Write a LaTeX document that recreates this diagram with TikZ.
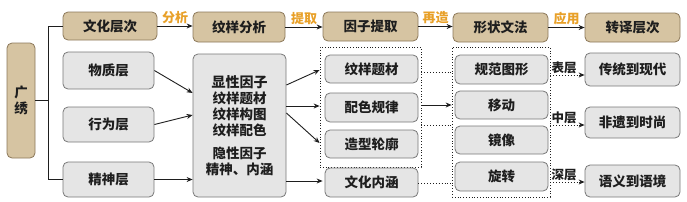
\documentclass[tikz,border=0pt]{standalone}
\usepackage{fontspec}
\setmainfont{Noto Sans CJK SC}
\usetikzlibrary{arrows.meta,calc}
\definecolor{tanfill}{RGB}{214,196,162}
\definecolor{tanline}{RGB}{140,120,90}
\definecolor{gfill}{RGB}{229,229,229}
\definecolor{gline}{RGB}{120,120,120}
\definecolor{orangelab}{RGB}{232,160,40}
\definecolor{ink}{RGB}{30,30,30}
\newcommand\mkbox[7]{\node[#1, minimum width={(#5)-(#3)}, minimum height={(#6)-(#4)}] (#2) at ({((#3)+(#5))/2},{((#4)+(#6))/2}) {#7};}
\begin{document}
\begin{tikzpicture}[x=1pt,y=-1pt,
 base/.style={rounded corners=5pt, line width=0.8pt, inner sep=0pt, align=center, font=\fontsize{13.5}{16}\selectfont\bfseries, text=ink},
 tanbox/.style={base, fill=tanfill, draw=tanline},
 graybox/.style={base, fill=gfill, draw=gline},
 grpbox/.style={draw=ink, dotted, line width=0.8pt, inner sep=0pt},
 arr/.style={draw=ink, line width=0.9pt, -{Stealth[length=6pt,width=5pt]}},
 ln/.style={draw=ink, line width=0.9pt},
 dl/.style={draw=ink, dotted, line width=0.9pt},
 darr/.style={draw=ink, dotted, line width=0.9pt, -{Stealth[length=6pt,width=5pt]}},
 toplab/.style={text=orangelab, font=\fontsize{13}{14}\selectfont\bfseries, inner sep=0pt},
 sidelab/.style={text=ink, font=\fontsize{12.5}{14}\selectfont\bfseries, inner sep=0pt}]
\useasboundingbox (0,0) rectangle (687,201);
% groups
\mkbox{grpbox}{g1}{320}{47}{421}{167}{}
\mkbox{grpbox}{g2}{452}{47}{550}{197}{}
% left
\mkbox{tanbox}{gx}{7}{43}{35}{158}{\fontsize{13.5}{27}\selectfont\bfseries 广\\绣}
\mkbox{tanbox}{wh}{63}{12}{157}{40}{文化层次}
\mkbox{graybox}{wz}{63}{52}{154}{89}{物质层}
\mkbox{graybox}{xw}{63}{107}{154}{142}{行为层}
\mkbox{graybox}{js}{63}{162}{154}{197}{精神层}
% column 2
\mkbox{tanbox}{wf}{193}{12}{285}{42}{纹样分析}
\mkbox{graybox}{big}{193}{54}{286}{197}{\fontsize{14}{20.5}\selectfont\bfseries 显性因子\\纹样题材\\纹样构图\\纹样配色\\[7pt]隐性因子\\精神、内涵}
% column 3
\mkbox{tanbox}{yz}{323}{12}{418}{41}{因子提取}
\mkbox{graybox}{a1}{325}{55}{418}{83}{纹样题材}
\mkbox{graybox}{a2}{325}{93}{418}{122}{配色规律}
\mkbox{graybox}{a3}{325}{130}{418}{158}{造型轮廓}
\mkbox{graybox}{a4}{325}{168}{418}{197}{文化内涵}
% column 4
\mkbox{tanbox}{xz}{453}{13}{548}{42}{形状文法}
\mkbox{graybox}{b1}{455}{55}{548}{84}{规范图形}
\mkbox{graybox}{b2}{455}{91}{548}{119}{移动}
\mkbox{graybox}{b3}{455}{126}{548}{154}{镜像}
\mkbox{graybox}{b4}{455}{162}{548}{191}{旋转}
% column 5
\mkbox{tanbox}{t1}{585}{13}{680}{42}{转译层次}
\mkbox{graybox}{t2}{585}{53}{680}{86}{传统到现代}
\mkbox{graybox}{t3}{585}{107}{680}{138}{非遗到时尚}
\mkbox{graybox}{t4}{585}{165}{680}{197}{语义到语境}
% spine
\coordinate (sp) at (48,0);
\draw[ln] (gx.east) -- (gx.east -| sp);
\draw[ln] (wh.west) -- (wh.west -| sp) -- (js.west -| sp) -- (js.west);
% top row
\draw[arr] (wh.east) -- (wh.east -| wf.west) node[toplab, midway, above=2pt] {分析};
\draw[arr] (wf.east) -- (wf.east -| yz.west) node[toplab, midway, above=2pt] {提取};
\draw[arr] (yz.east) -- (yz.east -| xz.west) node[toplab, midway, above=2pt] {再造};
\draw[arr] (xz.east) -- (xz.east -| t1.west) node[toplab, midway, above=2pt] {应用};
% layers to factors
\draw[arr] (wz.east) -- (big.west |- 0,93);
\draw[arr] (xw.east) -- (big.west |- 0,115);
\draw[arr] (js.east) -- (js.east -| big.west);
% factors to group 1
\draw[arr] (big.east |- 0,85) -- (g1.west |- 0,70);
\draw[arr] (big.east |- 0,106) -- (g1.west |- 0,106);
\draw[arr] (big.east |- 0,113) -- (g1.west |- 0,143);
\draw[arr] (big.east |- 0,181) -- ($(a4.west |- 0,181)+(-2,0)$);
% group 1 to group 2
\draw[arr] (g1.east |- 0,105) -- (g2.west |- 0,105);
\draw[dl] (g1.east |- 0,72) -- (g2.west |- 0,72);
\draw[dl] (g1.east |- 0,125) -- (g2.west |- 0,125);
\draw[dl] (a4.east |- 0,183) -- (g2.west |- 0,183);
% group 2 to results
\draw[darr] (g2.east |- 0,75) -- (t2.west |- 0,75) node[sidelab, pos=0.4, above=1pt] {表层};
\draw[darr] (g2.east |- 0,125) -- (t3.west |- 0,125) node[sidelab, pos=0.4, above=1pt] {中层};
\draw[darr] (g2.east |- 0,182) -- (t4.west |- 0,182) node[sidelab, pos=0.4, above=1pt] {深层};
\end{tikzpicture}
\end{document}
